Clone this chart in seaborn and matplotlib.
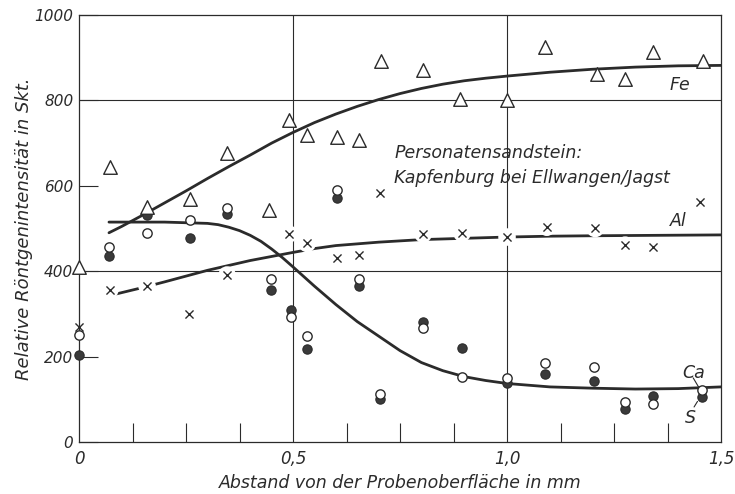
import numpy as np
import pandas as pd
import matplotlib
matplotlib.use("Agg")
import matplotlib.pyplot as plt
import seaborn as sns

# ---------------- data ----------------
fe_x = [0.0, 0.072, 0.159, 0.26, 0.346, 0.444, 0.49, 0.533, 0.603, 0.654, 0.706,
        0.804, 0.89, 1.0, 1.089, 1.21, 1.276, 1.341, 1.458]
fe_y = [410, 643, 550, 568, 678, 543, 755, 720, 714, 708, 893,
        872, 804, 802, 926, 861, 849, 913, 893]

al_x = [0.0, 0.072, 0.159, 0.257, 0.346, 0.49, 0.533, 0.603, 0.654, 0.703,
        0.804, 0.895, 1.0, 1.093, 1.206, 1.276, 1.341, 1.451]
al_y = [269, 356, 365, 299, 391, 487, 465, 432, 437, 582,
        487, 489, 480, 503, 500, 461, 456, 562]

ca_x = [0.0, 0.07, 0.159, 0.259, 0.346, 0.449, 0.495, 0.533, 0.603, 0.654,
        0.703, 0.804, 0.895, 1.0, 1.089, 1.203, 1.276, 1.341, 1.456]
ca_y = [250, 457, 489, 519, 549, 381, 293, 248, 589, 381,
        112, 267, 153, 149, 184, 175, 93, 90, 122]

s_x = [0.0, 0.07, 0.159, 0.259, 0.346, 0.449, 0.495, 0.533, 0.603, 0.654,
       0.703, 0.804, 0.895, 1.0, 1.089, 1.203, 1.276, 1.341, 1.456]
s_y = [203, 435, 531, 478, 533, 355, 309, 218, 571, 365,
       100, 281, 219, 138, 160, 143, 77, 108, 106]

# fitted curves
fe_cx = [0.07, 0.1, 0.15, 0.2, 0.25, 0.3, 0.35, 0.4, 0.45, 0.5, 0.55, 0.6,
         0.65, 0.7, 0.75, 0.8, 0.85, 0.9, 0.95, 1.0, 1.1, 1.2, 1.3, 1.4, 1.5]
fe_cy = [490, 505, 532, 560, 588, 617, 645, 672, 700, 725, 748, 768,
         786, 802, 816, 828, 838, 846, 852, 857, 866, 873, 878, 881, 882]

al_cx = [0.08, 0.15, 0.2, 0.3, 0.4, 0.5, 0.55, 0.6, 0.7, 0.8, 0.9, 1.0,
         1.1, 1.2, 1.35, 1.5]
al_cy = [345, 362, 375, 402, 425, 444, 453, 460, 468, 474, 477, 480,
         482, 483, 484, 485]

ca_cx = [0.07, 0.2, 0.3, 0.325, 0.35, 0.375, 0.4, 0.425, 0.45, 0.475, 0.5,
         0.55, 0.6, 0.65, 0.7, 0.75, 0.8, 0.85, 0.9, 0.95, 1.0,
         1.1, 1.2, 1.3, 1.4, 1.5]
ca_cy = [515, 515, 512, 509, 503, 495, 484, 470, 452, 432, 410,
         365, 322, 282, 248, 214, 186, 167, 153, 144, 137,
         129, 126, 124, 125, 129]

x_ticklabels = ["0", "0,5", "1,0", "1,5"]
y_ticklabels = ["0", "200", "400", "600", "800", "1000"]

# ---------------- style ----------------
sns.set_style("white")
plt.rcParams["font.family"] = ["DejaVu Sans"]
plt.rcParams["font.style"] = "italic"
INK = "#2b2b2b"

fig = plt.figure(figsize=(7.35, 4.94), dpi=100)
ax = fig.add_axes([0.1075, 0.1053, 0.8735, 0.8643])

ax.set_xlim(0, 1.5)
ax.set_ylim(0, 1000)

# grid lines
for gx in (0.5, 1.0):
    ax.axvline(gx, color=INK, lw=0.8, zorder=1)
for gy in (400, 800):
    ax.axhline(gy, color=INK, lw=0.8, zorder=1)

# curves
sns.lineplot(x=fe_cx, y=fe_cy, ax=ax, color=INK, lw=2.0, zorder=2)
sns.lineplot(x=al_cx, y=al_cy, ax=ax, color=INK, lw=2.0, zorder=2)
sns.lineplot(x=ca_cx, y=ca_cy, ax=ax, color=INK, lw=2.0, zorder=2)

# white halos behind crosses to interrupt lines
sns.scatterplot(x=al_x, y=al_y, ax=ax, marker="o", s=160, color="white",
                edgecolor="none", zorder=2.5, legend=False, clip_on=False)

# markers
sns.scatterplot(x=s_x, y=s_y, ax=ax, marker="o", s=45, color="#3a3a3a",
                edgecolor=INK, linewidth=0.8, zorder=3, legend=False,
                clip_on=False)
sns.scatterplot(x=ca_x, y=ca_y, ax=ax, marker="o", s=45, color="white",
                edgecolor=INK, linewidth=1.0, zorder=3.2, legend=False,
                clip_on=False)
sns.scatterplot(x=fe_x, y=fe_y, ax=ax, marker="^", s=95, color="white",
                edgecolor=INK, linewidth=1.0, zorder=3, legend=False,
                clip_on=False)
sns.scatterplot(x=al_x, y=al_y, ax=ax, marker="x", s=34, color=INK,
                linewidth=1.0, zorder=3, legend=False, clip_on=False)

# axes / ticks
ax.set_xticks([0, 0.5, 1.0, 1.5])
ax.set_xticklabels(x_ticklabels)
ax.set_yticks([0, 200, 400, 600, 800, 1000])
ax.set_yticklabels(y_ticklabels)
ax.set_xticks(np.arange(0.125, 1.5, 0.125), minor=True)
ax.tick_params(axis="x", which="minor", direction="in", length=14, width=0.8,
               color=INK, bottom=True)
ax.tick_params(axis="x", which="major", direction="in", length=0, pad=6,
               labelsize=12, labelcolor=INK)
ax.tick_params(axis="y", which="major", direction="in", length=14, width=0.8,
               color=INK, left=True, pad=4, labelsize=11, labelcolor=INK)
for sp in ax.spines.values():
    sp.set_color(INK)
    sp.set_linewidth(0.9)

ax.set_xlabel("Abstand von der Probenoberfläche in mm", fontsize=12.5,
              color=INK, labelpad=4)
ax.set_ylabel("Relative Röntgenintensität in Skt.", fontsize=13, color=INK)
ax.yaxis.set_label_coords(-0.072, 0.5)

# annotations
ax.text(0.736, 664, "Personatensandstein:", fontsize=12.5, color=INK)
ax.text(0.736, 607, "Kapfenburg bei Ellwangen/Jagst", fontsize=12.5, color=INK)
ax.text(1.38, 825, "Fe", fontsize=12.5, color=INK)
ax.text(1.38, 505, "Al", fontsize=12.5, color=INK)
ax.text(1.41, 150, "Ca", fontsize=12.5, color=INK)
ax.text(1.415, 45, "S", fontsize=12.5, color=INK)
ax.plot([1.435, 1.448], [150, 128], color=INK, lw=0.8, zorder=2)
ax.plot([1.437, 1.445], [82, 95], color=INK, lw=0.8, zorder=2)

fig.savefig("out.png", dpi=100, facecolor="white")
